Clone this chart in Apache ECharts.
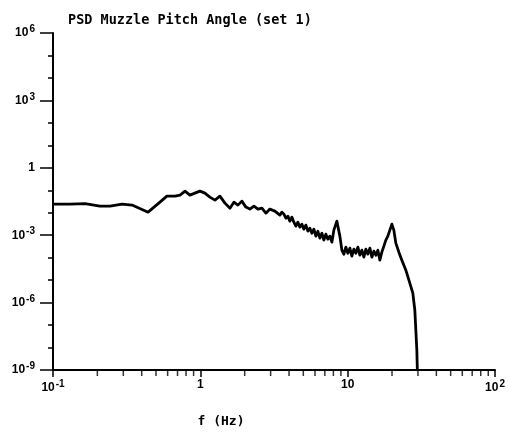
<!DOCTYPE html>
<html><head><meta charset="utf-8">
<script src="https://cdn.jsdelivr.net/npm/echarts@6/dist/echarts.min.js"></script>
<style>html,body{margin:0;padding:0;background:#fff}#c{width:509px;height:436px}</style>
</head><body><div id="c"></div>
<script>
var titleText = 'PSD Muzzle Pitch Angle (set 1)';
var xAxisName = 'f (Hz)';
var freqHz = [0.1,0.130,0.165,0.208,0.244,0.294,0.344,0.442,0.532,0.593,0.673,0.728,0.787,0.849,0.918,0.993,1.074,1.161,1.256,1.358,1.469,1.589,1.690,1.799,1.914,2.037,2.168,2.312,2.460,2.618,2.786,2.965,3.206,
  3.467,3.577,3.691,3.808,3.929,4.054,4.182,4.315,4.452,4.593,4.739,4.889,5.044,5.204,5.370,5.540,5.715,5.897,6.084,6.277,6.476,6.683,6.894,7.113,7.339,7.571,7.812,8.060,8.315,8.446,8.579,8.853,
  9.134,9.423,9.723,10.03,10.35,10.68,11.02,11.36,11.73,12.10,12.48,12.88,13.29,13.71,14.15,14.60,15.06,15.54,16.03,16.54,17.06,17.61,18.16,18.74,19.34,19.95,20.58,21.23,22.26,23.33,24.83,26.42,27.69,28.57,29.02,29.48,29.71];
var psd = [0.0242,0.0240,0.0254,0.0197,0.0197,0.0242,0.0219,0.0106,0.0296,0.0548,0.0548,0.0608,0.0916,0.0608,0.0746,0.0916,0.0746,0.0495,0.0364,0.0548,0.0268,0.0160,0.0296,0.0218,0.0329,0.0178,0.0145,0.0197,0.0145,0.0160,0.00959,0.0145,0.0118,
  0.00782,0.01064,0.00867,0.00574,0.00706,0.00423,0.00637,0.00381,0.00253,0.00381,0.00229,0.00310,0.00186,0.00281,0.00151,0.00206,0.00123,0.00186,0.000908,0.00151,0.000740,0.00123,0.000603,0.00111,0.000667,0.000908,0.000490,0.00168,0.00310,0.00423,0.00253,0.000908,
  0.000216,0.000143,0.000294,0.000158,0.000265,0.000117,0.000239,0.000158,0.000294,0.000129,0.000216,0.000105,0.000239,0.000143,0.000265,0.000105,0.000195,0.000129,0.000216,0.0000774,0.000176,0.000325,0.000603,0.000908,0.00168,0.00310,0.00168,0.000443,0.000176,0.0000774,0.0000277,0.00000731,0.00000262,4.58e-7,5.90e-8,7.59e-9,1e-9];
var xMin = 0.1, xMax = 100, yMin = 1e-9, yMax = 1e6;
var xMinorTicks = [];
[0.1, 1, 10].forEach(function (d) { for (var k = 2; k <= 9; k++) xMinorTicks.push(+(d * k).toPrecision(3)); });

function fmtLog(v) {
  var e = Math.round(Math.log10(v));
  if (e === 0) return '1';
  if (e === 1) return '10';
  return '10{s|' + (e < 0 ? '-' + (-e) : e) + '}';
}
var labelFont = {fontFamily: 'Liberation Sans', fontWeight: 'bold', fontSize: 12, color: '#000'};
var rich = {s: {fontFamily: 'Liberation Sans', fontWeight: 'bold', fontSize: 10, color: '#000', padding: [0, 0, 7, 1]}};

var chart = echarts.init(document.getElementById('c'), null, {renderer: 'canvas'});
chart.setOption({
  animation: false,
  backgroundColor: '#fff',
  title: {text: titleText, left: 63, top: 8, textStyle: {fontFamily: 'DejaVu Sans Mono', fontWeight: 'bold', fontSize: 13.5, color: '#000'}},
  grid: {left: 53, right: 14, top: 33, bottom: 66},
  xAxis: [{
    type: 'log', logBase: 10, min: xMin, max: xMax,
    name: xAxisName, nameLocation: 'middle', nameGap: 45,
    nameTextStyle: {fontFamily: 'DejaVu Sans Mono', fontWeight: 'bold', fontSize: 13, color: '#000', padding: [0, 106, 0, 0]},
    axisLine: {show: true, onZero: false, lineStyle: {color: '#000', width: 2}},
    axisTick: {show: true, inside: false, length: 7, lineStyle: {color: '#000', width: 1.5}},
    axisLabel: Object.assign({formatter: fmtLog, margin: 9, rich: rich, showMaxLabel: true}, labelFont),
    splitLine: {show: false}
  }],
  yAxis: [{
    type: 'log', logBase: 10, min: yMin, max: yMax, interval: 3,
    axisLine: {show: true, onZero: false, lineStyle: {color: '#000', width: 2}},
    axisTick: {show: true, length: 13, lineStyle: {color: '#000', width: 1.5}},
    axisLabel: Object.assign({formatter: fmtLog, margin: 18, rich: rich}, labelFont),
    splitLine: {show: false}
  }, {
    type: 'log', logBase: 10, min: yMin, max: yMax, interval: 1, position: 'left',
    axisLine: {show: false},
    axisTick: {show: true, length: 5, lineStyle: {color: '#000', width: 1.5}},
    axisLabel: {show: false},
    splitLine: {show: false}
  }],
  series: [{
    type: 'line', name: 'PSD',
    data: freqHz.map(function (f, i) { return [f, psd[i]]; }),
    showSymbol: false, symbol: 'none', smooth: false,
    lineStyle: {color: '#000', width: 2.8, join: 'round'}, clip: true
  }, {
    type: 'scatter', name: 'minor ticks', silent: true, clip: false,
    data: xMinorTicks.map(function (f) { return [f, yMin]; }),
    symbol: 'rect', symbolSize: [1.5, 5], symbolOffset: [0, 3.5],
    itemStyle: {color: '#000'}
  }]
});
</script></body></html>
